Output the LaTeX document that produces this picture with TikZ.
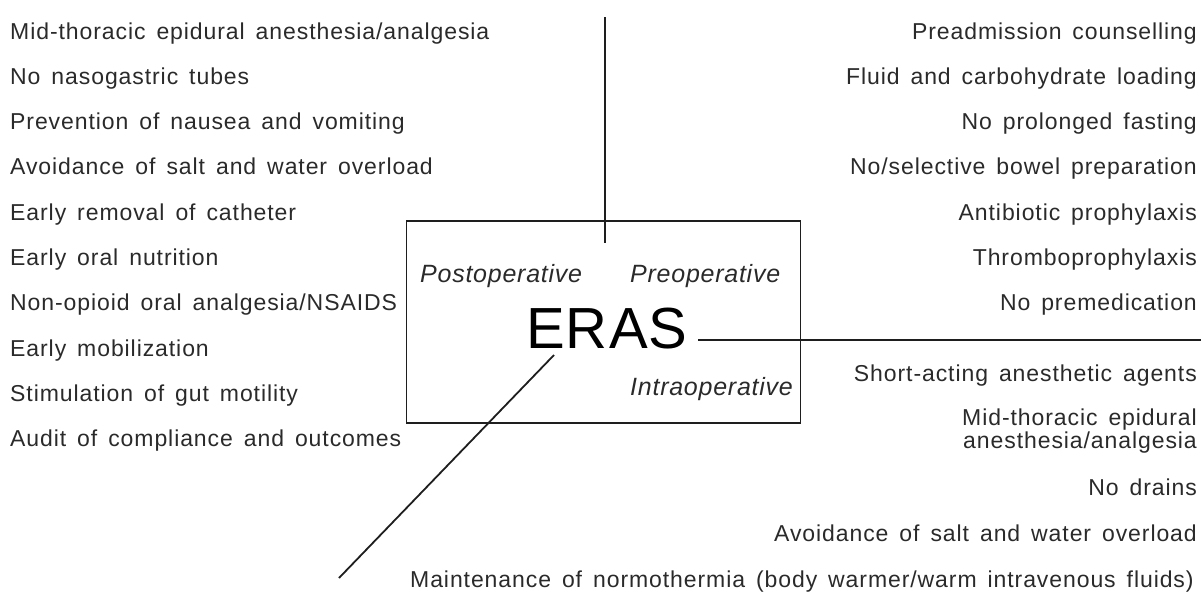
\documentclass[tikz,border=0pt]{standalone}
\usepackage{fontspec}
\setmainfont{Liberation Sans}
\newfontfamily\itemfont{Liberation Sans}[LetterSpace=4,WordSpace=1.5]
\newfontfamily\phasefont{Liberation Sans}[LetterSpace=3]
\newfontfamily\erasfont{Liberation Sans}[LetterSpace=2]
\definecolor{txt}{HTML}{2A2A2A}
\definecolor{ln}{HTML}{1E1E1E}
\begin{document}
\begin{tikzpicture}[x=1pt,y=-1pt,
  item/.style={inner sep=0pt, text=txt, font=\itemfont\fontsize{23}{23}\selectfont},
  leftitem/.style={item, anchor=base west},
  rightitem/.style={item, anchor=base east},
  phase/.style={inner sep=0pt, anchor=base west, text=txt, font=\phasefont\fontsize{25}{25}\selectfont\itshape},
  frame/.style={draw=ln, line width=1.8pt, inner sep=0pt},
  spoke/.style={draw=ln, line width=1.8pt}]
\useasboundingbox (0,0) rectangle (1201,598);
% left column (postoperative)
\foreach \t [count=\i] in {Mid-thoracic epidural anesthesia/analgesia, No nasogastric tubes, Prevention of nausea and vomiting, Avoidance of salt and water overload, Early removal of catheter, Early oral nutrition, Non-opioid oral analgesia/NSAIDS, Early mobilization, Stimulation of gut motility, Audit of compliance and outcomes}
  \node[leftitem] (L\i) at (10,{39+45.3*(\i-1)}) {\t};
% right column (preoperative)
\foreach \t [count=\i] in {Preadmission counselling, Fluid and carbohydrate loading, No prolonged fasting, No/selective bowel preparation, Antibiotic prophylaxis, Thromboprophylaxis, No premedication}
  \node[rightitem] (P\i) at (1197,{39+45.3*(\i-1)}) {\t};
% right lower (intraoperative)
\node[rightitem] (I1) at (1197,381) {Short-acting anesthetic agents};
\node[rightitem] (I2a) at (1197,425) {Mid-thoracic epidural};
\node[rightitem] (I2b) at (1197,448) {anesthesia/analgesia};
\node[rightitem] (I3) at (1197,495) {No drains};
\node[rightitem] (I4) at (1197,541) {Avoidance of salt and water overload};
\node[leftitem] (I5) at (410,587) {Maintenance of normothermia (body warmer/warm intravenous fluids)};
% central box
\node[frame, minimum width=394pt, minimum height=202pt] (box) at (603.5,322) {};
\node[inner sep=0pt, anchor=base west, text=black, font=\erasfont\fontsize{58}{58}\selectfont] (eras) at (526,348) {ERAS};
\node[phase] (post) at (420,282) {Postoperative};
\node[phase] (pre) at (630,282) {Preoperative};
\node[phase] (intra) at (630,395) {Intraoperative};
% spokes
\coordinate (vtop) at (605,17);
\coordinate (vbot) at (605,243);
\coordinate (hl) at (698,340);
\coordinate (hr) at (1201,340);
\coordinate (dt) at (554,355);
\coordinate (db) at (339,578);
\draw[spoke] (vtop) -- (vbot);
\draw[spoke] (hl) -- (hr);
\draw[spoke] (dt) -- (db);
\end{tikzpicture}
\end{document}
